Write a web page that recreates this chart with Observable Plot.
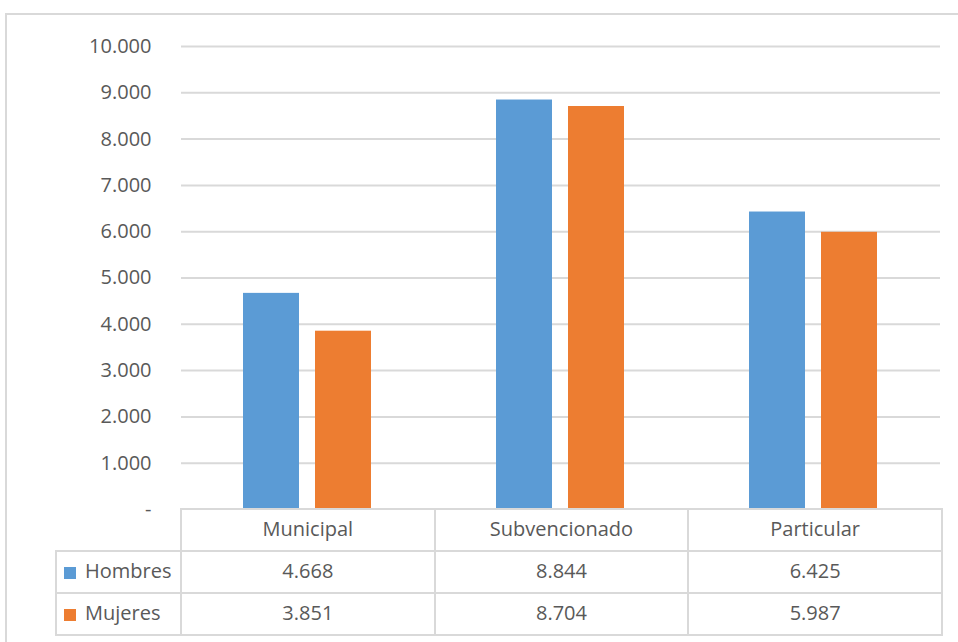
<!DOCTYPE html>
<html>
<head>
<meta charset="utf-8">
<script src="https://cdn.jsdelivr.net/npm/d3@7"></script>
<script src="https://cdn.jsdelivr.net/npm/@observablehq/plot@0.6"></script>
<style>
  html, body { margin: 0; padding: 0; background: #fff; }
  body { width: 958px; height: 642px; position: relative; overflow: hidden; font-family: "Open Sans", sans-serif; color: #595959; }
  #frame { position: absolute; left: 5px; top: 13px; width: 1000px; height: 700px; border-top: 2px solid #d9d9d9; border-left: 2px solid #d9d9d9; }
  #chart { position: absolute; left: 0; top: 0; }
  #tbl { position: absolute; left: 55px; top: 508px; border-collapse: collapse; table-layout: fixed; font-size: 20px; color: #595959; }
  #tbl td { border: 2px solid #d9d9d9; padding: 0 0 3px 0; text-align: center; vertical-align: middle; white-space: nowrap; }
  #tbl td.corner { border: none; }
  #tbl td.name { text-align: left; padding-left: 7px; }
  .sw { display: inline-block; width: 12px; height: 12px; margin-right: 9px; vertical-align: -1px; }
</style>
</head>
<body>
<div id="frame"></div>
<div id="chart"></div>
<table id="tbl"></table>
<script>
const categories = ["Municipal", "Subvencionado", "Particular"];
const seriesNames = ["Hombres", "Mujeres"];
const hombres = [4668, 8844, 6425];
const mujeres = [3851, 8704, 5987];
const colors = ["#5B9BD5", "#ED7D31"];
const yTicks = [0, 1000, 2000, 3000, 4000, 5000, 6000, 7000, 8000, 9000, 10000];

const seriesValues = [hombres, mujeres];
const rows = categories.flatMap((c, i) => seriesNames.map((s, j) => ({category: c, series: s, value: seriesValues[j][i]})));

const fmt = d => d === 0 ? "-" : d3.format(",")(d).replace(/,/g, ".");

const W = 958, mL = 180, mR = 17;
const plot = Plot.plot({
  width: W,
  height: 535,
  marginTop: 46,
  marginBottom: 26,
  marginLeft: mL,
  marginRight: mR,
  style: {fontFamily: "Open Sans, sans-serif", fontSize: "20px", color: "#595959", background: "transparent"},
  facet: {data: rows, x: "category", label: null},
  fx: {domain: categories, padding: 0, axis: null, label: null},
  x: {domain: seriesNames, paddingInner: 0.219, paddingOuter: 0.847, axis: null},
  y: {domain: [0, 10000], ticks: yTicks, tickFormat: fmt, tickSize: 0, tickPadding: 30, label: null},
  color: {domain: seriesNames, range: colors},
  marks: [
    Plot.ruleY(yTicks.filter(d => d > 0), {stroke: "#d9d9d9", strokeWidth: 2}),
    Plot.barY(rows, {x: "series", y: "value", fill: "series"})
  ]
});
document.getElementById("chart").appendChild(plot);

// data table below the chart
const colW = (W - mL - mR) / 3;
const tbl = document.getElementById("tbl");
const cg = document.createElement("colgroup");
[125, colW, colW, colW].forEach(w => { const c = document.createElement("col"); c.style.width = w + "px"; cg.appendChild(c); });
tbl.appendChild(cg);
const head = document.createElement("tr");
head.style.height = "42px";
const corner = document.createElement("td"); corner.className = "corner"; head.appendChild(corner);
categories.forEach(c => { const td = document.createElement("td"); td.textContent = c; head.appendChild(td); });
tbl.appendChild(head);
seriesNames.forEach((s, j) => {
  const tr = document.createElement("tr");
  tr.style.height = "42px";
  const td0 = document.createElement("td"); td0.className = "name";
  const sw = document.createElement("span"); sw.className = "sw"; sw.style.background = colors[j];
  td0.appendChild(sw); td0.appendChild(document.createTextNode(s));
  tr.appendChild(td0);
  seriesValues[j].forEach(v => { const td = document.createElement("td"); td.textContent = fmt(v); tr.appendChild(td); });
  tbl.appendChild(tr);
});
</script>
</body>
</html>
